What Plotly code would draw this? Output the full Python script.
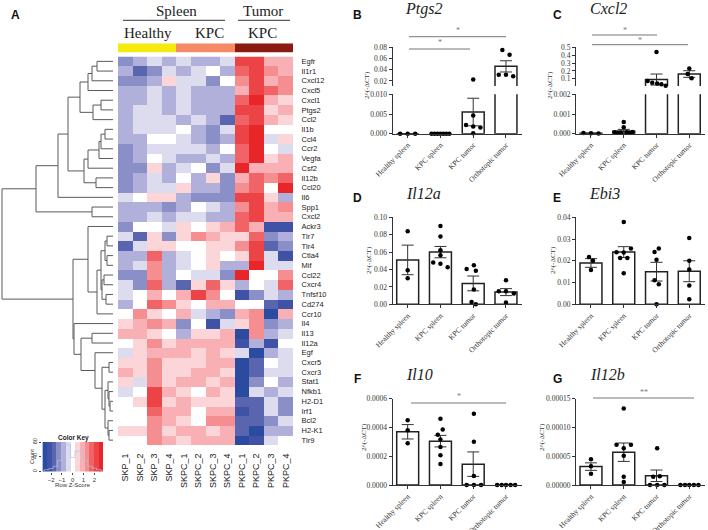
import plotly.graph_objects as go

W, H = 708, 530
genes = ["Egfr","Il1r1","Cxcl12","Cxcl5","Cxcl1","Ptgs2","Ccl2","Il1b","Ccl4","Ccr2","Vegfa","Csf2","Il12b","Ccl20","Il6","Spp1","Cxcl2","Ackr3","Tlr7","Tlr4","Ctla4","Mif","Ccl22","Cxcr4","Tnfsf10","Cd274","Ccr10","Il4","Il13","Il12a","Egf","Cxcr5","Cxcr3","Stat1","Nfkb1","H2-D1","Irf1","Bcl2","H2-K1","Tlr9"]
samples = ["SKP_1","SKP_2","SKP_3","SKP_4","SKPC_1","SKPC_2","SKPC_3","SKPC_4","PKPC_1","PKPC_2","PKPC_3","PKPC_4"]
sample_group = [0,0,0,0,1,1,1,1,2,2,2,2]
level_step = 0.45
heat_levels = [
[-3,-2,-1,-2,-1,-2,-2,-1,5,5,2,2],
[-2,-4,-3,-1,-2,-1,0,-2,4,5,3,2],
[-3,-3,-2,1,-1,-1,-3,0,3,5,2,3],
[-2,-2,-1,-2,-1,-2,-2,-2,2,5,4,3],
[-2,-2,-1,-2,-1,-2,-2,-2,4,6,2,1],
[-2,-1,-1,-2,-1,-2,-2,-2,5,5,1,2],
[-2,-1,-1,-1,-2,-1,-2,-4,4,5,2,1],
[-2,-1,-1,-1,0,-2,-3,-1,5,6,0,0],
[-2,-2,0,0,-1,-2,-3,-2,5,6,-1,1],
[-3,-2,-1,-1,-1,-1,-2,0,4,6,0,-1],
[-3,-2,0,-1,-2,-2,-1,-2,4,6,1,2],
[-3,-3,1,-2,-1,0,-3,-1,6,2,2,2],
[-3,-2,-1,-2,0,-2,1,-3,2,4,3,4],
[-3,-2,-1,-1,1,-2,-2,-3,3,4,0,6],
[-1,0,1,1,-2,-3,-3,-3,5,5,1,-2],
[-2,-2,-2,-3,-2,0,-1,-2,3,5,2,3],
[-2,-2,-1,-2,-1,-1,-2,-2,4,5,2,2],
[-3,0,0,-1,1,0,1,2,4,2,-5,-5],
[-1,-4,1,-3,1,3,2,1,1,4,-3,-2],
[-4,-1,1,1,0,0,1,1,3,5,-4,-3],
[-2,-2,4,-2,-1,0,1,0,1,5,-1,-5],
[-2,-1,3,-2,-1,0,1,-2,-2,6,-1,-1],
[-3,-3,3,-2,0,-1,-1,-3,6,0,0,3],
[-1,-3,4,-2,-4,1,4,1,-2,0,-1,4],
[-1,0,2,0,2,5,3,0,-5,-3,-1,-2],
[-2,0,4,3,1,0,2,2,0,0,-4,-5],
[0,3,1,0,2,-1,-2,-3,2,3,-6,2],
[1,2,3,2,-3,0,-5,-1,1,3,-3,-2],
[2,2,1,0,-2,1,1,2,-6,3,-2,-1],
[0,1,3,1,2,2,2,2,-5,-2,-5,0],
[-1,1,2,2,2,1,2,1,-1,-6,-2,-1],
[1,1,3,1,1,1,2,2,-6,-4,0,-1],
[2,1,3,1,1,2,2,1,-6,-4,-1,-1],
[1,-1,3,1,2,2,1,2,-6,-3,0,-2],
[-1,0,5,2,1,0,2,1,-6,-1,-2,-1],
[0,1,5,1,2,1,1,1,-4,-4,-1,-3],
[0,0,4,2,2,0,2,2,-5,-4,-1,-3],
[0,0,3,2,1,0,3,3,-4,-4,-3,-1],
[1,1,3,1,2,2,1,2,-4,-6,-2,-2],
[0,0,3,2,1,2,2,2,-6,-5,-1,0],
]
level_colors = ["#2A4B9F","#3F52A5","#5A65B0","#8A8FC8","#B0B0DA","#DCDCEE","#FFFFFF","#FBD5D8","#F9B0B4","#F58E90","#F06468","#EC4347","#E8262A"]
# dendrogram: (merge height, left child, right child), leaves are gene names
tree = (2,
  (36,
    (58,
      (68,
        (80,
          (88, (92, (97, "Egfr", "Il1r1"), "Cxcl12"), "Cxcl5"),
          (93, (101, "Cxcl1", "Ptgs2"), "Ccl2")),
        (84,
          (88, (99, (101, (105, "Il1b", "Ccl4"), "Ccr2"), "Vegfa"), "Csf2"),
          (96, "Il12b", "Ccl20"))),
      "Il6"),
    (92, "Spp1", "Cxcl2")),
  (73,
    (88, "Ackr3",
      (97,
        (101,
          (105, (107, "Tlr7", "Tlr4"), (107, "Ctla4", "Mif")),
          (102, (104, "Ccl22", "Cxcr4"), (106, "Tnfsf10", "Cd274"))),
        "Ccr10")),
    (74, "Il4",
      (81,
        (92, "Il13", "Il12a"),
        (95, "Egf",
          (102,
            (109, "Cxcr5", "Cxcr3"),
            (105,
              (108, "Stat1", (109, "Nfkb1", (110, "H2-D1", "Irf1"))),
              (108, "Bcl2", (109, "H2-K1", "Tlr9")))))))))
key_hist_x = [-2.8,-2.4,-2.0,-1.6,-1.2,-0.8,-0.4,0.0,0.4,0.8,1.2,1.6,2.0,2.4,2.8]
key_hist_y = [2,5,8,14,30,74,72,38,55,55,30,14,9,5,2]

bar_cats = ["Healthy spleen","KPC spleen","KPC tumor","Orthotopic tumor"]
panels = [
 dict(title="Ptgs2", letter="B", left=392.7, right=521.7, ybot=133.7, ytop=47.3,
      lo=(0,0.01,94.3,[0,0.005,0.01],".3f"), up=(0.011,0.08,86,[0.02,0.04,0.06,0.08],".2f"),
      means=[0,0,0.0055,0.046], errs=[0,0,0.0035,0.01],
      px=[[-.23,0,.23],[-.27,-.18,-.09,0,.09,.18,.27],[0,0,-.22,0,.22,0],[-.11,.11,-.22,0,.22]],
      py=[[0,0,0],[0,0,0,0,0,0,0],[.0225,.0046,.0022,.0018,.0016,.0001],[.075,.0665,.031,.031,.0285]],
      tx=423, ty=9, lx=357, ly=15, yl=(367,85), sig=[(409,506,36.7,30.5,"*"),(409,470,49,42.5,"*")]),
 dict(title="Cxcl2", letter="C", left=576, right=705, ybot=133.7, ytop=47.3,
      lo=(0,0.002,94.3,[0,0.001,0.002],".3f"), up=(0.008,0.5,86,[0.1,0.2,0.3,0.4,0.5],".1f"),
      means=[0.00002,0.00012,0.09,0.16], errs=[0,0.0001,0.07,0.042],
      px=[[-.23,0,.23],[-.27,-.18,-.09,0,0,.09,.18,.27],[0,-.27,-.13,.02,.15,.28],[0,-.05,.07]],
      py=[[.00003,.00002,.00001],[.00007,.00005,.00006,.0006,.00033,.00007,.00005,.00008],[.44,.07,.05,.04,.03,.01],[.23,.16,.105]],
      tx=608, ty=9, lx=557, ly=15, yl=(550,85), sig=[(592,657,35,30.5,"*"),(592,688,44.7,40.3,"*")]),
 dict(title="Il12a", letter="D", left=392.7, right=521.7, ybot=304.3, ytop=217.3,
      lo=(0,0.10,217.3,[0,.02,.04,.06,.08,.10],".2f"), up=None,
      means=[0.051,0.060,0.024,0.014], errs=[.017,.0065,.0085,.004],
      px=[[0,0,0],[0,0,0,0,-.22,0,.22],[-.2,.02,.08,.02,-.05,.08],[0,-.22,0,.24,0]],
      py=[[.084,.039,.030],[.09,.078,.062,.0565,.048,.0465,.0425],[.0405,.045,.0387,.017,.0027,0],[.0275,.015,.015,.0125,.002]],
      tx=423, ty=194, lx=357, ly=198, yl=(369,260), sig=[]),
 dict(title="Ebi3", letter="E", left=576, right=705, ybot=304.3, ytop=217.3,
      lo=(0,0.04,217.3,[0,.01,.02,.03,.04],".2f"), up=None,
      means=[0.019,0.024,0.015,0.0152], errs=[.002,.0025,.0043,.0048],
      px=[[-.06,.06,0],[0,-.22,0,.22,-.11,.11,0],[-.06,.07,0,-.06,.07,0],[0,0,0,0,0]],
      py=[[.0218,.02,.0158],[.0378,.0239,.0238,.0256,.0213,.0213,.0143],[.024,.0257,.0205,.011,.0092,0],[.0305,.02,.016,.0087,.0023]],
      tx=604, ty=194, lx=557, ly=198, yl=(553,260), sig=[]),
 dict(title="Il10", letter="F", left=392.7, right=521.7, ybot=485, ytop=398.7,
      lo=(0,0.0006,398.7,[0,.0002,.0004,.0006],".4f"), up=None,
      means=[0.00037,0.000305,0.000145,0], errs=[.00005,.00004,.000085,0],
      px=[[0,0,0],[0,-.08,.07,0,0,0,0],[.02,.02,.02,-.2,.02,.24],[-.27,-.13,0,.14,.28]],
      py=[[.00045,.00038,.00029],[.00046,.00035,.000385,.000317,.000264,.000206,.000146],[.000496,.0003,.000063,0,0,0],[0,0,0,0,0]],
      tx=419, ty=374, lx=357, ly=379, yl=(364,437), sig=[(411,506,403,397,"*")]),
 dict(title="Il12b", letter="G", left=576, right=705, ybot=485, ytop=398.7,
      lo=(0,0.00015,398.7,[0,.00005,.0001,.00015],".5f"), up=None,
      means=[0.000032,0.000057,0.000016,0], errs=[.0000065,.000016,.00001,0],
      px=[[0,0,0],[0,-.22,0,.22,0,0,0],[.02,.1,-.1,-.2,.02,.24],[-.27,-.13,0,.14,.28]],
      py=[[.0000446,.0000324,.0000197],[.000133,.00007,.0000637,.00007,.000051,.0000145,.0000052],[.0000637,.000015,.0000145,0,0,0],[0,0,0,0,0]],
      tx=607, ty=374, lx=557, ly=379, yl=(542,437), sig=[(593,694,398,392,"**")]),
]

def fx(p): return p / W
def fy(p): return 1 - p / H
def xdom(a, b): return [fx(a), fx(b)]
def ydom(top, bot): return [fy(bot), fy(top)]

fig = go.Figure()
layout = dict(width=W, height=H, margin=dict(l=0, r=0, t=0, b=0, pad=0), paper_bgcolor="white", plot_bgcolor="rgba(0,0,0,0)",
              showlegend=False, shapes=[], annotations=[], bargap=0.34, template="none")
ann = layout["annotations"]
shp = layout["shapes"]
sans = "Liberation Sans, Arial, sans-serif"
serif = "Liberation Serif, Times New Roman, serif"
axc = {"n": 0}
def new_axes():
    axc["n"] += 1
    n = axc["n"]
    s = "" if n == 1 else str(n)
    return "x" + s, "y" + s, "xaxis" + s, "yaxis" + s

def text(x, y, t, size, font=sans, color="#222", anchor="center", angle=0):
    ann.append(dict(x=fx(x), y=fy(y), xref="paper", yref="paper", text=t, showarrow=False, textangle=angle,
                    xanchor=anchor, yanchor="middle", font=dict(size=size, family=font, color=color)))
def hline(x0, x1, y, color="#333", w=1):
    shp.append(dict(type="line", xref="paper", yref="paper", x0=fx(x0), x1=fx(x1), y0=fy(y), y1=fy(y), line=dict(color=color, width=w)))

n_levels = len(level_colors)
stepscale = []
for i, c in enumerate(level_colors):
    stepscale += [[i / n_levels, c], [(i + 1) / n_levels, c]]
zlim = (n_levels / 2) * level_step
heat_x0, heat_x1, heat_y0, heat_y1 = 118, 293, 56.5, 445

# main heatmap
xn, yn, xk, yk = new_axes()
fig.add_trace(go.Heatmap(z=[[v * level_step for v in r] for r in heat_levels], x=samples, y=genes, xaxis=xn, yaxis=yn,
                         colorscale=stepscale, zmin=-zlim, zmax=zlim, showscale=False))
layout[xk] = dict(domain=xdom(heat_x0, heat_x1), anchor=yn, tickangle=-90, showgrid=False, zeroline=False, ticks="outside", ticklen=4,
                  tickcolor="rgba(0,0,0,0)", tickfont=dict(size=9, family=sans, color="#222"), automargin=False)
layout[yk] = dict(domain=ydom(heat_y0, heat_y1), anchor=xn, side="right", range=[len(genes) - .5, -.5], tickmode="array",
                  tickvals=genes, ticktext=genes, showgrid=False, zeroline=False, ticks="outside", ticklen=6,
                  tickcolor="rgba(0,0,0,0)", tickfont=dict(size=7.5, family=sans, color="#222"), automargin=False)

# dendrogram
xn, yn, xk, yk = new_axes()
dx, dy = [], []
LEAF = 113
def walk(node):
    if isinstance(node, str):
        return LEAF, genes.index(node)
    h, a, b = node
    xa, ya = walk(a)
    xb, yb = walk(b)
    dx.extend([xa, h, h, xb, None])
    dy.extend([ya, ya, yb, yb, None])
    return h, (ya + yb) / 2
rx, ry = walk(tree)
fig.add_trace(go.Scatter(x=dx, y=dy, mode="lines", xaxis=xn, yaxis=yn, line=dict(color="#5a5a5a", width=1), hoverinfo="skip"))
layout[xk] = dict(domain=xdom(0, 115), anchor=yn, range=[0, 115], visible=False, automargin=False)
layout[yk] = dict(domain=ydom(heat_y0, heat_y1), anchor=xn, range=[len(genes) - .5, -.5], visible=False, automargin=False)

# sample group bar
xn, yn, xk, yk = new_axes()
group_colors = ["#F5E90F", "#F48A66", "#8B1A10"]
gs = []
for i, c in enumerate(group_colors):
    gs += [[i / 3, c], [(i + 1) / 3, c]]
fig.add_trace(go.Heatmap(z=[sample_group], xaxis=xn, yaxis=yn, colorscale=gs, zmin=-.5, zmax=2.5, showscale=False))
layout[xk] = dict(domain=xdom(heat_x0, heat_x1), anchor=yn, visible=False, automargin=False)
layout[yk] = dict(domain=ydom(43.3, 52.7), anchor=xn, visible=False, automargin=False)

# group headers
text(176, 10.5, "Spleen", 15, serif)
text(263, 10.5, "Tumor", 15, serif)
text(148, 33, "Healthy", 15, serif)
text(209, 33, "KPC", 15, serif)
text(262, 33, "KPC", 15, serif)
hline(123, 225, 20.3)
hline(238, 290, 20.3)
text(15, 15, "<b>A</b>", 12, "Liberation Sans, Arial", "#111")

# colour key
xn, yn, xk, yk = new_axes()
key_edges = [(k - 0.5) * 5.6 / n_levels for k in range(-6, 8)]
fig.add_trace(go.Heatmap(z=[[k * level_step for k in range(-6, 7)]], x=key_edges, y=[0, 80], xaxis=xn, yaxis=yn,
                         colorscale=stepscale, zmin=-zlim, zmax=zlim, showscale=False))
fig.add_trace(go.Scatter(x=key_hist_x, y=key_hist_y, mode="lines", xaxis=xn, yaxis=yn, line=dict(color="rgba(175,195,225,.85)", width=.8, shape="hvh"), hoverinfo="skip"))
layout[xk] = dict(domain=xdom(42.4, 103), anchor=yn, range=[-2.8, 2.8], tickvals=[-2, -1, 0, 1, 2], ticks="outside", ticklen=2, tickwidth=.6, tickcolor="#444",
                  tickfont=dict(size=6, family=sans, color="#333"), showgrid=False, zeroline=False, showline=False, automargin=False)
layout[yk] = dict(domain=ydom(442, 471.5), anchor=xn, range=[0, 80], tickvals=[0, 40, 80], tickangle=-90, ticks="outside", ticklen=2, tickwidth=.6, tickcolor="#444",
                  tickfont=dict(size=5.5, family=sans, color="#333"), showgrid=False, zeroline=False, showline=False, automargin=False)
text(73, 437.5, "<b>Color Key</b>", 6.5, sans, "#222")
text(73, 485, "Row Z-Score", 6, sans, "#333")
text(32, 457, "Count", 5.5, sans, "#333", angle=-90)

# bar panels
AXC = "#333"
for p in panels:
    xn, yn, xk, yk = new_axes()
    layout[xk] = dict(domain=xdom(p["left"], p["right"]), anchor=yn, range=[-0.457, 3.48], tickmode="array", tickvals=[0, 1, 2, 3], ticktext=bar_cats,
                      tickangle=-45, ticks="outside", ticklen=3, tickwidth=1, tickcolor=AXC, showline=True, linecolor=AXC, linewidth=1.2,
                      showgrid=False, zeroline=False, tickfont=dict(size=7.5, family=serif, color="#333"), automargin=False)
    r0, r1, ltop, lticks, lfmt = p["lo"]
    layout[yk] = dict(domain=ydom(ltop, p["ybot"]), anchor=xn, range=[r0, r1], tickmode="array", tickvals=lticks, tickformat=lfmt, ticks="outside",
                      ticklen=3, tickwidth=1, tickcolor=AXC, showline=True, linecolor=AXC, linewidth=1.2, showgrid=False, zeroline=False,
                      tickfont=dict(size=7.5, family=serif, color="#333"), automargin=False)
    ylo = yn
    yup = None
    if p["up"]:
        yup = "y" + str(axc["n"] + 100)
        uk = "yaxis" + str(axc["n"] + 100)
        u0, u1, ubot, uticks, ufmt = p["up"]
        layout[uk] = dict(domain=ydom(p["ytop"], ubot), anchor=xn, range=[u0, u1], tickmode="array", tickvals=uticks, tickformat=ufmt, ticks="outside",
                          ticklen=3, tickwidth=1, tickcolor=AXC, showline=True, linecolor=AXC, linewidth=1.2, showgrid=False, zeroline=False,
                          tickfont=dict(size=7.5, family=serif, color="#333"), automargin=False)
    brk = p["up"][0] if p["up"] else None
    def add(yaxis, idx, with_err):
        fig.add_trace(go.Bar(x=idx, y=[p["means"][i] for i in idx], width=0.67, xaxis=xn, yaxis=yaxis,
                             marker=dict(color="white", line=dict(color="#222", width=1.5)),
                             error_y=dict(type="data", array=[p["errs"][i] if with_err(i) else 0 for i in idx], color="#333", thickness=1, width=6)))
    if yup:
        add(ylo, [0, 1, 2, 3], lambda i: p["means"][i] < brk)
        add(yup, [i for i in range(4) if p["means"][i] >= brk], lambda i: True)
    else:
        add(ylo, [0, 1, 2, 3], lambda i: True)
    lox, loy, upx, upy = [], [], [], []
    for c, (xs, ys) in enumerate(zip(p["px"], p["py"])):
        for a, b in zip(xs, ys):
            if brk is not None and b >= brk:
                upx.append(c + a); upy.append(b)
            else:
                lox.append(c + a); loy.append(b)
    mk = dict(color="black", size=4.5)
    fig.add_trace(go.Scatter(x=lox, y=loy, mode="markers", xaxis=xn, yaxis=ylo, marker=mk, cliponaxis=False))
    if yup:
        fig.add_trace(go.Scatter(x=upx, y=upy, mode="markers", xaxis=xn, yaxis=yup, marker=mk, cliponaxis=False))
    text(p["tx"], p["ty"], "<i>%s</i>" % p["title"], 16, serif, "#222")
    text(p["lx"], p["ly"], "<b>%s</b>" % p["letter"], 12, "Liberation Sans, Arial", "#111")
    text(p["yl"][0], p["yl"][1], "2^(-ΔCT)", 7, serif, "#333", angle=-90)
    for x0, x1, yl, ys, star in p["sig"]:
        hline(x0, x1, yl, "#777", 1)
        text((x0 + x1) / 2, ys, star, 8, serif, "#777")

fig.update_layout(**layout)
fig.write_html("out.html", config={"displayModeBar": False}, post_script="document.body.style.margin='0';document.documentElement.style.overflow='hidden';")
